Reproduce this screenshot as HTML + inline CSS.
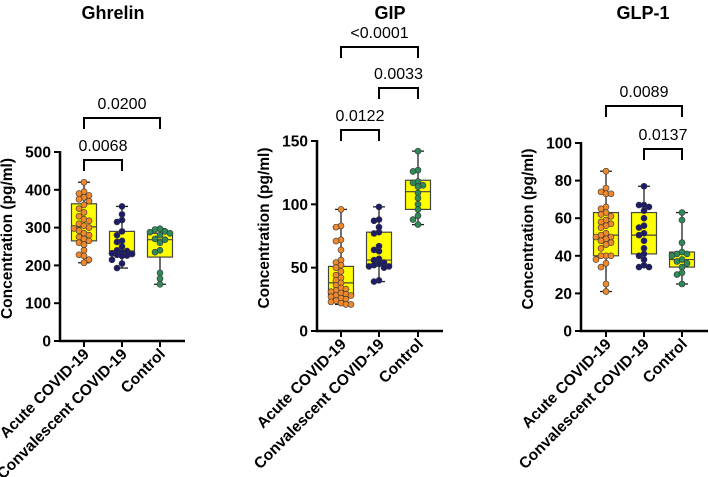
<!DOCTYPE html>
<html><head><meta charset="utf-8"><style>
html,body{margin:0;padding:0;background:#fff;}
svg{display:block;font-family:"Liberation Sans",Arial,sans-serif;}
</style></head><body>
<svg id="chart" width="709" height="477" viewBox="0 0 709 477"></svg>
<script>
// ---- data ----
const categories = ["Acute COVID-19", "Convalescent COVID-19", "Control"];
const panelTitles = ["Ghrelin", "GIP", "GLP-1"];
const ghrelinTicks = [0, 100, 200, 300, 400, 500];
const gipTicks = [0, 50, 100, 150];
const glpTicks = [0, 20, 40, 60, 80, 100];
// box stats: [min, q1, median, q3, max]
const ghrelinBoxes = [[207,265,302,363,420],[193,228,238,290,356],[150,222,268,285,297]];
const gipBoxes = [[21,28,38,51,96],[39,52,56,78,98],[84,96,110,119,142]];
const glpBoxes = [[21,40,51,63,85],[34,41,51,63,77],[25,34,38,42,63]];
const ghrelinAcute = [420,395,390,385,380,375,370,360,350,340,330,322,318,310,305,300,298,292,285,280,275,270,265,260,255,240,228,225,215,207];
const ghrelinConv = [356,335,320,315,290,280,265,262,250,240,238,235,232,230,228,226,225,215,205,193];
const ghrelinCtrl = [297,295,290,288,285,280,270,268,260,240,235,180,165,150];
const gipAcute = [96,83,82,72,71,64,56,54,52,50,47,44,42,40,38,36,34,33,32,31,30,29,28,28,27,26,25,24,23,22,21,21];
const gipConv = [98,88,87,82,78,77,67,64,63,57,56,54,53,52,51,51,50,40,39];
const gipCtrl = [142,127,126,118,117,115,114,109,105,100,96,91,88,84];
const glpAcute = [85,76,74,73,73,66,65,63,62,61,59,58,57,56,55,52,51,50,50,49,48,47,46,44,40,40,40,38,36,34,25,21];
const glpConv = [77,67,67,66,64,60,56,55,52,51,48,44,41,40,38,35,34,34];
const glpCtrl = [63,59,47,42,41,41,40,38,37,36,34,31,30,25];
// significance brackets: [fromIdx, toIdx, label]
const ghrelinSig = [[0,1,"0.0068"],[0,2,"0.0200"]];
const gipSig = [[0,1,"0.0122"],[1,2,"0.0033"],[0,2,"<0.0001"]];
const glpSig = [[1,2,"0.0137"],[0,2,"0.0089"]];

const panels = [
 {title:panelTitles[0], ticks:ghrelinTicks, max:500, boxes:ghrelinBoxes, pts:[ghrelinAcute,ghrelinConv,ghrelinCtrl], sig:ghrelinSig,
  ax:60, y0:341, yTop:152, xEnd:185, cx:[84,122,160], sigY:[160,118], titleX:113, name:"ghrelin"},
 {title:panelTitles[1], ticks:gipTicks, max:150, boxes:gipBoxes, pts:[gipAcute,gipConv,gipCtrl], sig:gipSig,
  ax:317, y0:331, yTop:141, xEnd:443, cx:[341,379,418], sigY:[130,88,47], titleX:390, name:"gip"},
 {title:panelTitles[2], ticks:glpTicks, max:100, boxes:glpBoxes, pts:[glpAcute,glpConv,glpCtrl], sig:glpSig,
  ax:581, y0:331, yTop:143, xEnd:708, cx:[606,644,682], sigY:[149,106], titleX:643, name:"glp1"}
];
const dotColors = ["#f0892a","#1c1c6b","#2e8b57"];
const NS = "http://www.w3.org/2000/svg";
const svg = document.getElementById("chart");
function mk(tag, attrs, parent){
  const e = document.createElementNS(NS, tag);
  for (const k in attrs) e.setAttribute(k, attrs[k]);
  (parent||svg).appendChild(e);
  return e;
}
panels.forEach(p => {
  const g = mk("g", {});
  
  
  const yS = v => p.y0 - (v / p.max) * (p.y0 - p.yTop);
  const t = mk("text", {x:p.titleX, y:19, "text-anchor":"middle", "font-size":18, "font-weight":"bold"}, g);
  t.textContent = p.title;
  
  
  const yAxis = mk("line", {x1:p.ax, y1:p.yTop-1, x2:p.ax, y2:p.y0+1, stroke:"#000", "stroke-width":2.5}, g);
  
  
  const xAxis = mk("line", {x1:p.ax-1, y1:p.y0, x2:p.xEnd, y2:p.y0, stroke:"#000", "stroke-width":2.5}, g);
  
  
  p.ticks.forEach(v => {
    const y = yS(v);
    mk("line", {x1:p.ax-6, y1:y, x2:p.ax, y2:y, stroke:"#000", "stroke-width":2}, g);
    const tl = mk("text", {x:p.ax-9, y:y+5.5, "text-anchor":"end", "font-size":15.5, "font-weight":"bold"}, g);
    tl.textContent = v;
    
    
  });
  const yt = mk("text", {x:0, y:0, "text-anchor":"middle", "font-size":15.5, "font-weight":"bold",
     transform:`translate(${p.ax-48},${(p.y0+p.yTop)/2 - 8}) rotate(-90)`}, g);
  yt.textContent = "Concentration (pg/ml)";
  
  
  p.cx.forEach((x, i) => {
    mk("line", {x1:x, y1:p.y0, x2:x, y2:p.y0+6, stroke:"#000", "stroke-width":2}, g);
    const xl = mk("text", {x:0, y:0, "text-anchor":"end", "font-size":15.5, "font-weight":"bold",
       transform:`translate(${x+6},${p.y0+14}) rotate(-45)`}, g);
    xl.textContent = categories[i];
    
    
    const b = p.boxes[i];
    const bw = 12.5;
    const bg = mk("g", {}, g);
    
    
    mk("line", {x1:x, y1:yS(b[0]), x2:x, y2:yS(b[4]), stroke:"#222", "stroke-width":1.3}, bg);
    mk("line", {x1:x-6, y1:yS(b[0]), x2:x+6, y2:yS(b[0]), stroke:"#222", "stroke-width":1.3}, bg);
    mk("line", {x1:x-6, y1:yS(b[4]), x2:x+6, y2:yS(b[4]), stroke:"#222", "stroke-width":1.3}, bg);
    mk("rect", {x:x-bw, y:yS(b[3]), width:2*bw, height:yS(b[1])-yS(b[3]), fill:"#ffff00", stroke:"#444", "stroke-width":1.2}, bg);
    mk("line", {x1:x-bw, y1:yS(b[2]), x2:x+bw, y2:yS(b[2]), stroke:"#444", "stroke-width":1.2}, bg);
    const placed = [];
    p.pts[i].forEach(v => {
      const y = yS(v);
      const offs = [0,-5,5,-10,10];
      let best = 0, bestD = -1;
      for (const o of offs) {
        const d = placed.length ? Math.min(...placed.map(q => Math.hypot(q[0]-o, q[1]-y))) : 99;
        if (d >= 5) { best = o; bestD = d; break; }
        if (d > bestD) { bestD = d; best = o; }
      }
      placed.push([best, y]);
      const c = mk("circle", {cx:x+best, cy:y, r:3, fill:dotColors[i], stroke:"#333", "stroke-width":0.6}, bg);
      
      
    });
  });
  p.sig.forEach((s, k) => {
    const y = p.sigY[k], x1 = p.cx[s[0]], x2 = p.cx[s[1]];
    const br = mk("path", {d:`M${x1},${y+11}V${y}H${x2}V${y+11}`, fill:"none", stroke:"#000", "stroke-width":2}, g);
    
    
    const lt = mk("text", {x:(x1+x2)/2, y:y-9, "text-anchor":"middle", "font-size":16}, g);
    lt.textContent = s[2];
    
    
  });
});
</script>
</body></html>
